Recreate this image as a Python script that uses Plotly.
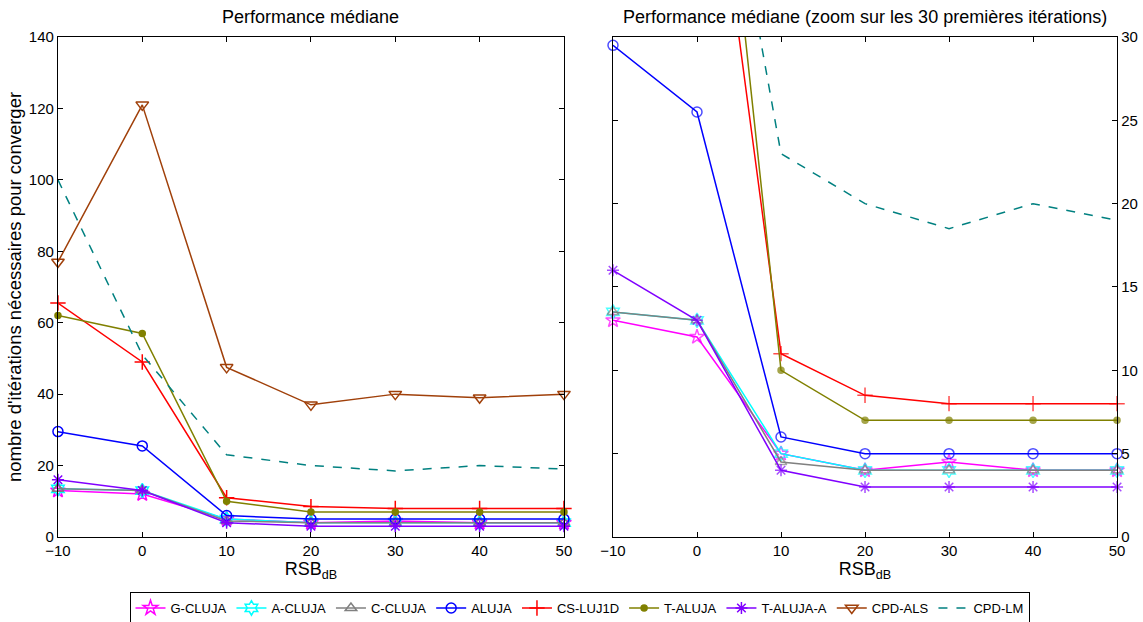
import plotly.graph_objects as go
from plotly.subplots import make_subplots

rsb = [-10, 0, 10, 20, 30, 40, 50]
g_cluja   = [13, 12, 5, 4, 4.5, 4, 4]
a_cluja   = [13.5, 13, 5, 4, 4, 4, 4]
c_cluja   = [13.5, 13, 4.5, 4, 4, 4, 4]
aluja     = [29.5, 25.5, 6, 5, 5, 5, 5]
cs_luj1d  = [65.5, 49, 11, 8.5, 8, 8, 8]
t_aluja   = [62, 57, 10, 7, 7, 7, 7]
t_aluja_a = [16, 13, 4, 3, 3, 3, 3]
cpd_als   = [77, 121, 47.5, 37, 40, 39, 40]
cpd_lm    = [100, 51, 23, 20, 18.5, 20, 19]

names = ["G-CLUJA", "A-CLUJA", "C-CLUJA", "ALUJA", "CS-LUJ1D", "T-ALUJA", "T-ALUJA-A", "CPD-ALS", "CPD-LM"]
series = [g_cluja, a_cluja, c_cluja, aluja, cs_luj1d, t_aluja, t_aluja_a, cpd_als, cpd_lm]
styles = [
    dict(color="#FF00FF", symbol="star-open", size=11, dash="solid"),
    dict(color="#00FFFF", symbol="hexagram-open", size=11, dash="solid"),
    dict(color="#808080", symbol="triangle-up-open", size=10, dash="solid"),
    dict(color="#0000FF", symbol="circle-open", size=10, dash="solid"),
    dict(color="#FF0000", symbol="cross-thin-open", size=11, dash="solid"),
    dict(color="#808000", symbol="circle", size=6, dash="solid"),
    dict(color="#8000FF", symbol="asterisk-open", size=10, dash="solid"),
    dict(color="#A0400A", symbol="triangle-down-open", size=11, dash="solid"),
    dict(color="#008080", symbol=None, size=0, dash="dash"),
]

FONT = "Liberation Sans, Arial"
fig = make_subplots(rows=1, cols=2)

for col, ymax in [(1, 140), (2, 30)]:
    for name, vals, st in zip(names, series, styles):
        if st["symbol"] is None:
            mode = "lines"
            marker = None
        else:
            mode = "lines+markers"
            sizes = [st["size"] if v <= ymax else 0 for v in vals]
            marker = dict(symbol=st["symbol"], size=sizes if col == 2 else st["size"], color=st["color"],
                          line=dict(width=1.5, color=st["color"]))
        fig.add_trace(go.Scatter(
            x=rsb, y=vals, name=name, mode=mode, marker=marker,
            line=dict(color=st["color"], width=1.5, dash=st["dash"]),
            showlegend=(col == 1), cliponaxis=False,
        ), row=1, col=col)

axis_common = dict(showline=True, linecolor="black", linewidth=1.2, mirror="ticks",
                   ticks="inside", ticklen=5, tickcolor="black", showgrid=False, zeroline=False,
                   automargin=False,
                   tickfont=dict(family=FONT, size=15, color="black"))

fig.update_xaxes(range=[-10, 50], tickvals=rsb, **axis_common)
fig.update_xaxes(domain=[0.0507, 0.4934], row=1, col=1)
fig.update_xaxes(domain=[0.5363, 0.9773], row=1, col=2)
fig.update_xaxes(title=dict(text="RSB<sub>dB</sub>", font=dict(family=FONT, size=18, color="black"), standoff=0))
fig.update_yaxes(domain=[0.1367, 0.9405], **axis_common)
fig.update_yaxes(range=[0, 140], tickvals=[0, 20, 40, 60, 80, 100, 120, 140], row=1, col=1,
                 title=dict(text="nombre d'itérations nécessaires pour converger",
                            font=dict(family=FONT, size=18.5, color="black"), standoff=2))
fig.update_yaxes(range=[0, 30], tickvals=[0, 5, 10, 15, 20, 25, 30], side="right", row=1, col=2)

fig.add_annotation(text="Performance médiane", x=(0.0507 + 0.4934) / 2, y=1 - 17 / 622,
                   xref="paper", yref="paper", showarrow=False, xanchor="center", yanchor="middle",
                   font=dict(family=FONT, size=18, color="black"))
fig.add_annotation(text="Performance médiane (zoom sur les 30 premières itérations)",
                   x=(0.5363 + 0.9773) / 2, y=1 - 17 / 622,
                   xref="paper", yref="paper", showarrow=False, xanchor="center", yanchor="middle",
                   font=dict(family=FONT, size=18, color="black"))

fig.update_layout(
    width=1143, height=622, margin=dict(l=0, r=0, t=0, b=0, autoexpand=False),
    plot_bgcolor="white", paper_bgcolor="white",
    legend=dict(orientation="h", x=0.507, xanchor="center", y=1 - 608 / 622, yanchor="middle",
                bordercolor="black", borderwidth=1, bgcolor="white",
                font=dict(family=FONT, size=13, color="black"),
                itemwidth=30, tracegroupgap=0),
)

fig.write_html("out.html", config={"displayModeBar": False},
               post_script="document.body.style.margin='0';document.body.style.overflow='hidden';")
